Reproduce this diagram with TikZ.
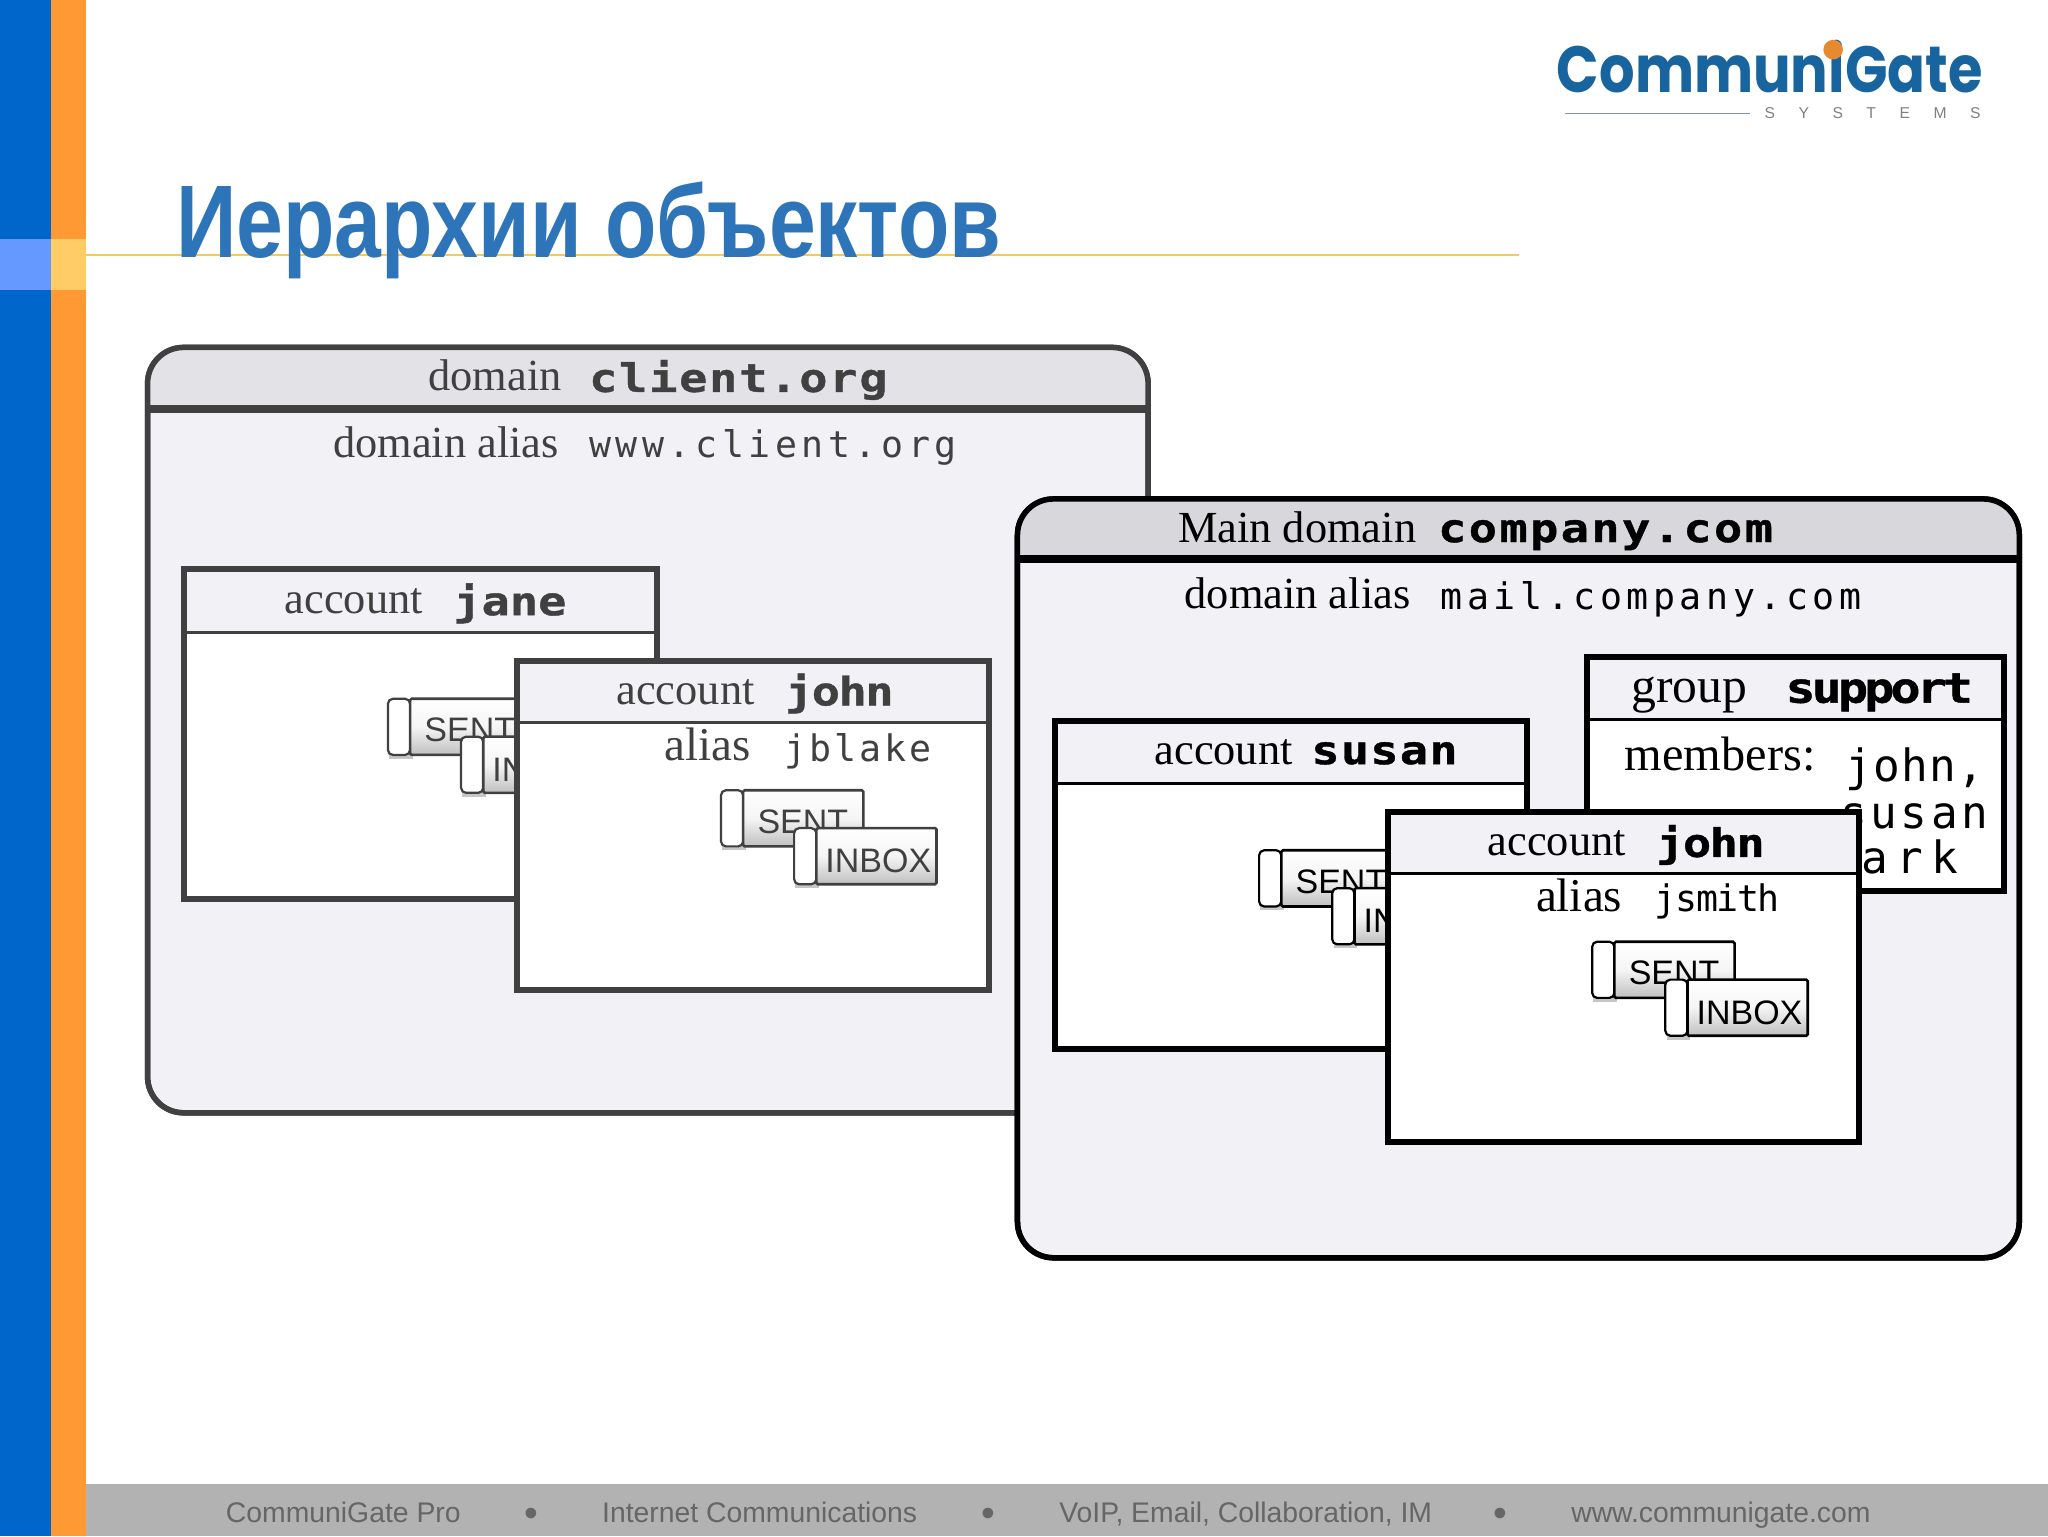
\documentclass[tikz,border=0pt]{standalone}
\usepackage{fontspec}
\setmainfont{Liberation Sans}
\newfontfamily\serf{Liberation Serif}
\newfontfamily\mon{DejaVu Sans Mono}
\newfontfamily\logof{Poppins}
\usetikzlibrary{calc}
\definecolor{dgray}{HTML}{404040}
\definecolor{panel}{HTML}{F2F1F5}
\definecolor{hdrA}{HTML}{E3E2E6}
\definecolor{hdrB}{HTML}{D8D7DB}
\definecolor{barblue}{HTML}{0066CC}
\definecolor{barorange}{HTML}{FF9933}
\definecolor{lightblue}{HTML}{6699FF}
\definecolor{lightorange}{HTML}{FFCC66}
\definecolor{rulecol}{HTML}{F5C95F}
\definecolor{titleblue}{HTML}{2E74B8}
\definecolor{footbar}{HTML}{B2B2B2}
\definecolor{foottext}{HTML}{666666}
\definecolor{logoblue}{HTML}{17649F}
\definecolor{logoline}{HTML}{7F97AD}
\newcommand{\fsz}[1]{\pgfmathsetmacro\fszv{#1*1.3061}\fontsize{\fszv pt}{\fszv pt}\selectfont}
\newcommand{\lab}[2]{{\serf\fsz{#1}#2}}
\newcommand{\bnm}[3]{{\mon\bfseries\fsz{#1}\addfontfeature{FakeStretch=1.2,FakeBold=1,LetterSpace=#2}#3}}
\newcommand{\rnm}[3]{{\mon\fsz{#1}\addfontfeature{LetterSpace=#2}#3}}
\tikzset{
  txt/.style={anchor=base west,inner sep=0pt,outer sep=0pt},
  foot/.style={txt,text=foottext,font=\fsz{21.7}},
  bul/.style={anchor=center,inner sep=0pt,text=foottext,font=\fsz{30}},
  foldercap/.style={draw=#1,line width=2.2pt,fill=white,rounded corners=5pt},
  folderbody/.style={draw=#1,line width=2.6pt,top color=white,bottom color=gray!50,middle color=white!92!gray,rounded corners=1.5pt},
  acct/.style={draw=#1,line width=6pt,fill=white},
}
% \folders{prefix}{x}{y}{colour}
\newcommand{\folders}[4]{%
  \begin{scope}[shift={(#2,#3)}]
    \fill[gray!45] (1,2) rectangle (19,46);
    \draw[foldercap=#4] (0,0) rectangle (17,43);
    \draw[folderbody=#4] (17,0) rectangle (109,43);
    \node[txt,text=#4] (#1sent) at (28,33) {\fsz{26}SENT};
    \fill[gray!45] (57,31) rectangle (75,75);
    \draw[foldercap=#4] (56,29) rectangle (73,72);
    \draw[folderbody=#4] (73,29) rectangle (165,72);
    \node[txt,text=#4] (#1inbox) at (80,63) {\fsz{26}INBOX};
  \end{scope}}
\newcommand{\acctbox}[6]{% x0 y0 x1 y1 ysep colour
  \draw[acct=#6] (#1,#2) rectangle (#3,#4);
  \fill[panel] (#1+2,#2+2) rectangle (#3-2,#5);
  \draw[#6,line width=3pt] (#1,#5) -- (#3,#5);
}
% \domainbox{x0}{y0}{x1}{y1}{ysep}{line}{header}
\newcommand{\domainbox}[7]{%
  \draw[#6,line width=5.5pt,fill=panel,rounded corners=36pt] (#1,#2) rectangle (#3,#4);
  \begin{scope}
    \clip[rounded corners=36pt] (#1,#2) rectangle (#3,#4);
    \fill[#7] (#1,#2) rectangle (#3,#5);
  \end{scope}
  \draw[#6,line width=5.5pt,rounded corners=36pt] (#1,#2) rectangle (#3,#4);
  \draw[#6,line width=8pt] (#1,#5) -- (#3,#5);
}
\begin{document}
\begin{tikzpicture}[x=1.3061pt,y=-1.3061pt]
\useasboundingbox (0,0) rectangle (1568,1176);
\fill[white] (0,0) rectangle (1568,1176);
% side bars
\fill[barblue] (0,0) rectangle (39,1176);
\fill[barorange] (39,0) rectangle (65.5,1176);
\fill[lightblue] (0,183) rectangle (39,222);
\fill[lightorange] (39,183) rectangle (65.5,222);
\draw[rulecol,line width=2pt] (65.5,195.5) -- (1163,195.5);
% footer
\fill[footbar] (65.5,1136) rectangle (1568,1176);
\node[foot] (f1) at (173,1166) {CommuniGate Pro};
\node[bul] (b1) at (407,1162) {•};
\node[foot] (f2) at (461,1166) {Internet Communications};
\node[bul] (b2) at (757,1162) {•};
\node[foot] (f3) at (811,1166) {VoIP, Email, Collaboration, IM};
\node[bul] (b3) at (1149,1162) {•};
\node[foot] (f4) at (1203,1166) {www.communigate.com};
% title
\node[txt,text=titleblue] (title) at (135,197) {\scalebox{0.815}[1]{\fsz{79}\bfseries Иерархии объектов}};
% logo
\node[txt,text=logoblue] (logo) at (1192,71) {\scalebox{0.855}[1]{\logof\bfseries\fsz{50}CommuniGate}};
\fill[barorange!90!black] (1403.5,38) circle (7.5);
\draw[logoline,line width=1.3pt] (1198,87) -- (1340,87);
\node[txt,text=gray] (systems) at (1351,91) {\fsz{12}\addfontfeature{LetterSpace=150}SYSTEMS};
% domain client.org
\domainbox{113}{266}{879}{852}{313}{dgray}{hdrA}
\node[txt,text=dgray] (d1a) at (328,299) {\lab{34}{domain}};
\node[txt,text=dgray] (d1b) at (451,300) {\bnm{30}{4.4}{client.org}};
\node[txt,text=dgray] (d1c) at (255,350) {\lab{34}{domain alias}};
\node[txt,text=dgray] (d1d) at (451,350) {\rnm{28}{12.5}{www.client.org}};
% account jane
\acctbox{141}{436}{503}{688}{484}{dgray}
\node[txt,text=dgray] (ja) at (218,470) {\lab{34}{account}};
\node[txt,text=dgray] (jb) at (347,471) {\bnm{30}{0}{jane}};
\folders{jane}{297}{535}{dgray}
% account john left
\acctbox{396}{506}{757}{758}{553}{dgray}
\node[txt,text=dgray] (ka) at (472,539) {\lab{34}{account}};
\node[txt,text=dgray] (kb) at (601,540) {\bnm{30}{-4}{john}};
\node[txt,text=dgray] (kc) at (509,582) {\lab{36}{alias}};
\node[txt,text=dgray] (kd) at (601,583) {\rnm{28}{8}{jblake}};
\folders{johnl}{552}{605}{dgray}
% domain company.com
\domainbox{779}{382}{1546}{963}{428}{black}{hdrB}
\node[txt] (d2a) at (902,415) {\lab{34}{Main domain}};
\node[txt] (d2b) at (1101,415) {\bnm{30}{6}{company.com}};
\node[txt] (d2c) at (907,466) {\lab{34}{domain alias}};
\node[txt] (d2d) at (1103,467) {\rnm{28}{12.5}{mail.company.com}};
% group support
\acctbox{1215}{503}{1534}{682}{551}{black}
\node[txt] (ga) at (1249,538) {\lab{38}{group}};
\node[txt] (gb) at (1367,538) {\bnm{32}{-9.5}{support}};
\node[txt] (gc) at (1244,590) {\lab{37}{members:}};
\node[txt] (gd) at (1413,598) {\rnm{34}{3}{john,}};
\node[txt] (ge) at (1409,634) {\rnm{34}{8}{susan}};
\node[txt] (gf) at (1399,669) {\rnm{34}{18}{mark}};
% account susan
\acctbox{808}{552}{1169}{803}{600}{black}
\node[txt] (sa) at (884,585) {\lab{34}{account}};
\node[txt] (sb) at (1004,585) {\bnm{30}{3}{susan}};
\folders{susan}{964}{651}{black}
% account john right
\acctbox{1063}{622}{1423}{874}{669}{black}
\node[txt] (ra) at (1139,655) {\lab{34}{account}};
\node[txt] (rb) at (1268,656) {\bnm{30}{-4}{john}};
\node[txt] (rc) at (1176,698) {\lab{36}{alias}};
\node[txt] (rd) at (1267,698) {\rnm{28}{-4}{jsmith}};
\folders{johnr}{1219}{721}{black}
\end{tikzpicture}
\end{document}
